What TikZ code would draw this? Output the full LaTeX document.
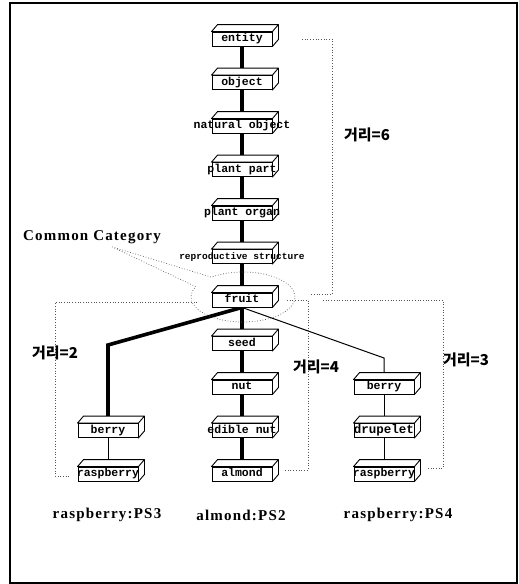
\documentclass[tikz,border=0pt]{standalone}
\usepackage{fontspec}
\setmainfont{Liberation Serif}
\setmonofont{Liberation Mono}
\newfontfamily\krfont{Noto Sans CJK KR}
\newfontfamily\capfont[LetterSpace=8]{Liberation Serif}
\usepackage{tikz}
\usetikzlibrary{backgrounds,shapes.callouts,calc}
\definecolor{cDot}{HTML}{555555}
\tikzset{
  cube/.style={draw,fill=white,line width=0.9pt,minimum width=60pt,minimum height=14pt,inner sep=0pt,
    text height=8pt,text depth=2.5pt,font=\fontsize{11.5}{12}\ttfamily\bfseries},
  cubeface/.style={draw,fill=white,line width=0.9pt,line join=round},
  link/.style={line width=3.6pt},
  tlink/.style={line width=1pt},
  brk/.style={draw=cDot,dotted,line width=0.7pt},
  dist/.style={font=\krfont\bfseries\fontsize{15}{17}\selectfont,inner sep=0pt},
  pslbl/.style={font=\capfont\bfseries\fontsize{15}{16}\selectfont,inner sep=0pt},
}
\newcommand{\boxtxt}[1]{\makebox[0pt]{#1}}

\begin{document}
\begin{tikzpicture}[x=1pt,y=-1pt]
  \useasboundingbox (0,0) rectangle (519,584);
  \draw[line width=1.6pt] (10,3) rectangle (517,583);
  % hypernym chain
  \foreach \n/\t [count=\i from 0] in {entity/entity,object/object,natobj/natural object,part/plant part,
      organ/plant organ,repro/{\fontsize{9.5}{10}\selectfont reproductive structure},fruit/fruit,seed/seed,
      nut/nut,edible/edible nut,almond/almond}
    \node[cube] (\n) at (242,39+43.5*\i) {\boxtxt{\t}};
  \node[cube] (lberry) at (108,430.5) {\boxtxt{berry}};
  \node[cube] (lrasp) at (108,474) {\boxtxt{raspberry}};
  \node[cube] (rberry) at (384,387) {\boxtxt{berry}};
  \node[cube] (drupe) at (384,430.5) {\boxtxt{\fontsize{12.5}{13}\selectfont drupelet}};
  \node[cube] (rrasp) at (384,474) {\boxtxt{raspberry}};
  \coordinate (lbend) at (108,345);
  \coordinate (rbend) at (384,358);
  \begin{scope}[on background layer]
    \foreach \a/\b in {entity/object,object/natobj,natobj/part,part/organ,organ/repro,repro/fruit,
        fruit/seed,seed/nut,nut/edible,edible/almond}
      \draw[link] (\a) -- (\b);
    \draw[link] (fruit.south) -- (lbend) -- (lberry);
    \draw[tlink] (lberry) -- (lrasp);
    \draw[tlink] (fruit.south) -- (rbend) -- (rberry);
    \draw[tlink] (rberry) -- (drupe) -- (rrasp);
    % top and side faces
    \foreach \n in {entity,object,natobj,part,organ,repro,fruit,seed,nut,edible,almond,lberry,lrasp,rberry,drupe,rrasp}
      \draw[cubeface] (\n.north west) -- ++(6pt,7pt) -- ([shift={(6pt,7pt)}]\n.north east)
        -- ([shift={(6pt,7pt)}]\n.south east) -- (\n.south east) -- (\n.north east) -- cycle
        (\n.north east) -- ++(6pt,7pt);
  \end{scope}
  % common category
  \node[font=\capfont\bfseries\fontsize{15}{16}\selectfont,inner sep=0pt] (ccat) at (92,237) {Common Category};
  \node[ellipse callout,draw=cDot,dotted,line width=0.7pt,minimum width=104pt,minimum height=50pt,
    callout pointer arc=28,callout absolute pointer={([xshift=20pt,yshift=-3pt]ccat.south)}] (common) at (243,297) {};
  % distance brackets
  \draw[brk] (302,39) -| (332,294) -- (310,294);
  \draw[brk] (197,302) -| (55,476) -- (70,476);
  \draw[brk] (287,300) -| (308,470) -- (285,470);
  \draw[brk] (323,300) -| (443,468) -- (428,468);
  \node[dist] (d6) at (367,135) {거리=6};
  \node[dist] (d2) at (55,353) {거리=2};
  \node[dist] (d4) at (316,367) {거리=4};
  \node[dist] (d3) at (466,360) {거리=3};
  % path labels
  \node[pslbl] (ps3) at (107,515) {raspberry:PS3};
  \node[pslbl] (ps2) at (241,515) {almond:PS2};
  \node[pslbl] (ps4) at (398,515) {raspberry:PS4};
\end{tikzpicture}
\end{document}
